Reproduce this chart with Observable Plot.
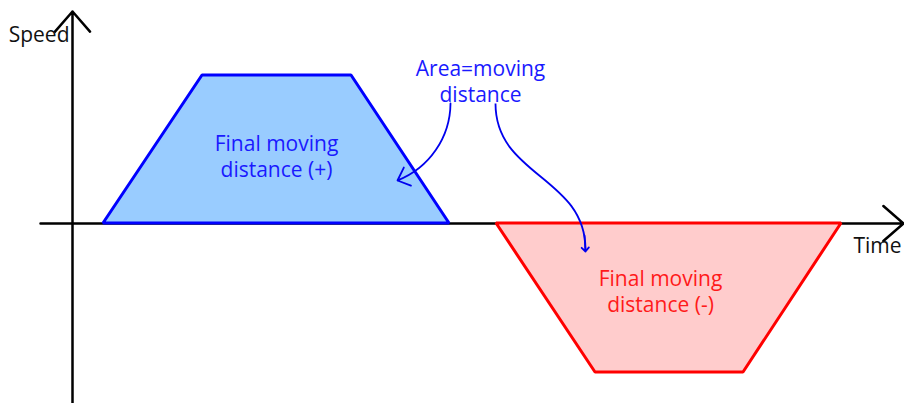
<!DOCTYPE html>
<html>
<head>
<meta charset="utf-8">
<script src="https://cdn.jsdelivr.net/npm/d3@7"></script>
<script src="https://cdn.jsdelivr.net/npm/@observablehq/plot@0.6"></script>
<style>
  html, body { margin: 0; padding: 0; background: #fff; }
  #chart svg { display: block; }
</style>
</head>
<body>
<div id="chart"></div>
<script>
// Positive profile (blue trapezoid)
const blueTime = [31, 130, 279, 377];
const blueSpeed = [0, 148, 148, 0];
// Negative profile (red trapezoid)
const redTime = [424, 523, 671, 769];
const redSpeed = [0, -149, -149, 0];

// Axis extents
const xAxisTime = [-32, 831];
const yAxisSpeed = [-180, 212];

// Labels
const speedLabel = [{t: -3, s: 188, text: "Speed"}];
const timeLabel = [{t: 829, s: -23, text: "Time"}];
const noteLabels = [
  {t: 408, s: 143, text: "Area=moving\ndistance", color: "#1a1aff"},
  {t: 204, s: 68, text: "Final moving\ndistance (+)", color: "#1a1aff"},
  {t: 588, s: -67, text: "Final moving\ndistance (-)", color: "#ff1a1a"}
];

// Callout arrows
const calloutArc = [{t1: 378, s1: 120, t2: 325, s2: 43}];
const calloutS = [{t1: 423, s1: 120, t2: 513, s2: -26}];
const calloutSHead = [{t1: 512, s1: -12, t2: 513, s2: -28}];

const font = "'Open Sans', 'Noto Sans', sans-serif";

const blue = blueTime.map((t, i) => ({t, s: blueSpeed[i]}));
const red = redTime.map((t, i) => ({t, s: redSpeed[i]}));

const chart = Plot.plot({
  width: 904,
  height: 403,
  margin: 0,
  x: {domain: [-72, 832], axis: null},
  y: {domain: [-180, 223], axis: null},
  style: {fontFamily: font, background: "#fff"},
  marks: [
    Plot.arrow([0], {x1: xAxisTime[0], x2: xAxisTime[1], y1: 0, y2: 0,
      stroke: "#000", strokeWidth: 2.5, headLength: 16, headAngle: 82}),
    Plot.arrow([0], {x1: 0, x2: 0, y1: yAxisSpeed[0], y2: yAxisSpeed[1],
      stroke: "#000", strokeWidth: 2.5, headLength: 16, headAngle: 82}),
    Plot.areaY(blue, {x: "t", y1: 0, y2: "s", fill: "#99ccff", stroke: "#0000ff",
      strokeWidth: 3, strokeLinejoin: "miter"}),
    Plot.areaY(red, {x: "t", y1: 0, y2: "s", fill: "#ffcccc", stroke: "#ff0000",
      strokeWidth: 3, strokeLinejoin: "miter"}),
    Plot.text(speedLabel, {x: "t", y: "s", text: "text", textAnchor: "end",
      fill: "#111", fontSize: 21, fontFamily: font}),
    Plot.text(timeLabel, {x: "t", y: "s", text: "text", textAnchor: "end",
      fill: "#111", fontSize: 21, fontFamily: font}),
    Plot.text(noteLabels, {x: "t", y: "s", text: "text", fill: "color",
      fontSize: 21, lineHeight: 1.25, fontFamily: font}),
    Plot.arrow(calloutArc, {x1: "t1", y1: "s1", x2: "t2", y2: "s2", bend: 34,
      stroke: "#0000ee", strokeWidth: 1.8, headLength: 12, headAngle: 85}),
    Plot.link(calloutS, {x1: "t1", y1: "s1", x2: "t2", y2: "s2", curve: "bump-y",
      stroke: "#0000ee", strokeWidth: 1.8}),
    Plot.arrow(calloutSHead, {x1: "t1", y1: "s1", x2: "t2", y2: "s2",
      stroke: "#0000ee", strokeWidth: 1.8, headLength: 12, headAngle: 85})
  ]
});
document.getElementById("chart").appendChild(chart);
</script>
</body>
</html>
